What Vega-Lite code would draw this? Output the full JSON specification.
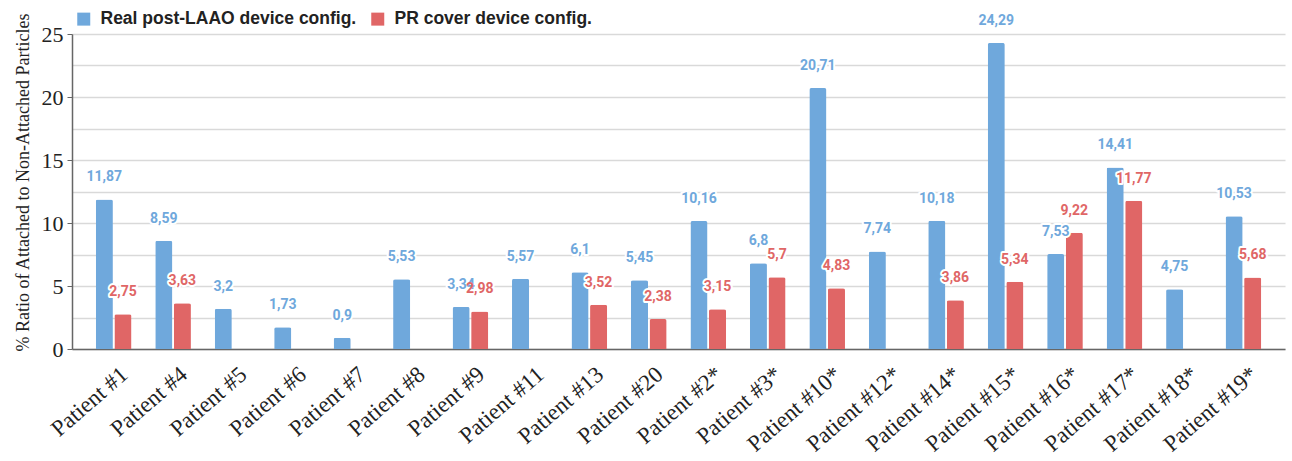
{
  "$schema": "https://vega.github.io/schema/vega-lite/v6.json",
  "width": 1213,
  "height": 315,
  "autosize": {"type": "none"},
  "padding": {"left": 72, "top": 34, "right": 7, "bottom": 112},
  "background": "white",
  "config": {
    "locale": {"number": {"decimal": ",", "thousands": ".", "grouping": [3], "currency": ["", " €"]}},
    "view": {"stroke": null},
    "axis": {"labelFont": "Liberation Serif", "titleFont": "Liberation Serif", "labelColor": "#222", "titleColor": "#222"}
  },
  "data": {
    "values": [
      {"patient": "Patient #1", "series": "Real post-LAAO  device config.", "value": 11.87},
      {"patient": "Patient #1", "series": "PR cover device config.", "value": 2.75},
      {"patient": "Patient #4", "series": "Real post-LAAO  device config.", "value": 8.59},
      {"patient": "Patient #4", "series": "PR cover device config.", "value": 3.63},
      {"patient": "Patient #5", "series": "Real post-LAAO  device config.", "value": 3.2},
      {"patient": "Patient #6", "series": "Real post-LAAO  device config.", "value": 1.73},
      {"patient": "Patient #7", "series": "Real post-LAAO  device config.", "value": 0.9},
      {"patient": "Patient #8", "series": "Real post-LAAO  device config.", "value": 5.53},
      {"patient": "Patient #9", "series": "Real post-LAAO  device config.", "value": 3.34},
      {"patient": "Patient #9", "series": "PR cover device config.", "value": 2.98},
      {"patient": "Patient #11", "series": "Real post-LAAO  device config.", "value": 5.57},
      {"patient": "Patient #13", "series": "Real post-LAAO  device config.", "value": 6.1},
      {"patient": "Patient #13", "series": "PR cover device config.", "value": 3.52},
      {"patient": "Patient #20", "series": "Real post-LAAO  device config.", "value": 5.45},
      {"patient": "Patient #20", "series": "PR cover device config.", "value": 2.38},
      {"patient": "Patient #2*", "series": "Real post-LAAO  device config.", "value": 10.16},
      {"patient": "Patient #2*", "series": "PR cover device config.", "value": 3.15},
      {"patient": "Patient #3*", "series": "Real post-LAAO  device config.", "value": 6.8},
      {"patient": "Patient #3*", "series": "PR cover device config.", "value": 5.7},
      {"patient": "Patient #10*", "series": "Real post-LAAO  device config.", "value": 20.71},
      {"patient": "Patient #10*", "series": "PR cover device config.", "value": 4.83},
      {"patient": "Patient #12*", "series": "Real post-LAAO  device config.", "value": 7.74},
      {"patient": "Patient #14*", "series": "Real post-LAAO  device config.", "value": 10.18},
      {"patient": "Patient #14*", "series": "PR cover device config.", "value": 3.86},
      {"patient": "Patient #15*", "series": "Real post-LAAO  device config.", "value": 24.29},
      {"patient": "Patient #15*", "series": "PR cover device config.", "value": 5.34},
      {"patient": "Patient #16*", "series": "Real post-LAAO  device config.", "value": 7.53},
      {"patient": "Patient #16*", "series": "PR cover device config.", "value": 9.22},
      {"patient": "Patient #17*", "series": "Real post-LAAO  device config.", "value": 14.41},
      {"patient": "Patient #17*", "series": "PR cover device config.", "value": 11.77},
      {"patient": "Patient #18*", "series": "Real post-LAAO  device config.", "value": 4.75},
      {"patient": "Patient #19*", "series": "Real post-LAAO  device config.", "value": 10.53},
      {"patient": "Patient #19*", "series": "PR cover device config.", "value": 5.68}
    ]
  },
  "encoding": {
    "x": {
      "field": "patient",
      "type": "nominal",
      "sort": ["Patient #1", "Patient #4", "Patient #5", "Patient #6", "Patient #7", "Patient #8", "Patient #9", "Patient #11", "Patient #13", "Patient #20", "Patient #2*", "Patient #3*", "Patient #10*", "Patient #12*", "Patient #14*", "Patient #15*", "Patient #16*", "Patient #17*", "Patient #18*", "Patient #19*"],
      "scale": {"paddingInner": 0.4, "paddingOuter": 0.4},
      "axis": {
        "title": null,
        "labelAngle": -41,
        "labelFontSize": 23,
        "labelAlign": "right",
        "labelBaseline": "middle",
        "labelPadding": 22,
        "labelOffset": 11,
        "ticks": false,
        "domainColor": "#666",
        "domainWidth": 1.5
      }
    },
    "xOffset": {
      "field": "series",
      "type": "nominal",
      "sort": ["Real post-LAAO  device config.", "PR cover device config."],
      "scale": {"paddingInner": 0.08}
    },
    "y": {
      "field": "value",
      "type": "quantitative",
      "scale": {"domain": [0, 25], "nice": false},
      "axis": {
        "title": "% Ratio of Attached to Non-Attached Particles",
        "titleFontSize": 18,
        "titleFontWeight": "normal",
        "titlePadding": 9,
        "titleY": 148,
        "values": [0, 2.5, 5, 7.5, 10, 12.5, 15, 17.5, 20, 22.5, 25],
        "labelExpr": "datum.value % 5 === 0 ? datum.label : ''",
        "labelFontSize": 22,
        "labelPadding": 4,
        "tickSize": 5,
        "tickColor": "#666",
        "tickOpacity": {"condition": {"test": "datum.value % 5 === 0", "value": 1}, "value": 0},
        "gridColor": "#d9d9d9",
        "gridWidth": 1.5,
        "domainColor": "#666",
        "domainWidth": 1.5
      }
    }
  },
  "layer": [
    {
      "mark": {"type": "bar", "cornerRadiusTopLeft": 2, "cornerRadiusTopRight": 2},
      "encoding": {
        "color": {
          "field": "series",
          "type": "nominal",
          "sort": ["Real post-LAAO  device config.", "PR cover device config."],
          "scale": {"domain": ["Real post-LAAO  device config.", "PR cover device config."], "range": ["#6fa8dc", "#e06666"]},
          "legend": {
            "title": null,
            "orient": "none",
            "legendX": 3,
            "legendY": -24,
            "direction": "horizontal",
            "symbolType": "square",
            "symbolSize": 169,
            "symbolStrokeWidth": 0,
            "labelFont": "Liberation Sans",
            "labelFontWeight": "bold",
            "labelFontSize": 17.5,
            "labelColor": "#222",
            "labelOffset": 8,
            "columnPadding": 7,
            "labelLimit": 400
          }
        }
      }
    },
    {
      "mark": {"type": "text", "dy": -22, "font": "Roboto", "fontWeight": "bold", "fontSize": 14, "stroke": "white", "strokeWidth": 4, "strokeJoin": "round", "fill": "white"},
      "encoding": {
        "text": {"field": "value", "type": "quantitative", "format": "~g"}
      }
    },
    {
      "mark": {"type": "text", "dy": -22, "font": "Roboto", "fontWeight": "bold", "fontSize": 14},
      "encoding": {
        "text": {"field": "value", "type": "quantitative", "format": "~g"},
        "color": {
          "field": "series",
          "type": "nominal",
          "scale": {"domain": ["Real post-LAAO  device config.", "PR cover device config."], "range": ["#6fa8dc", "#e06666"]},
          "legend": null
        }
      }
    }
  ]
}
